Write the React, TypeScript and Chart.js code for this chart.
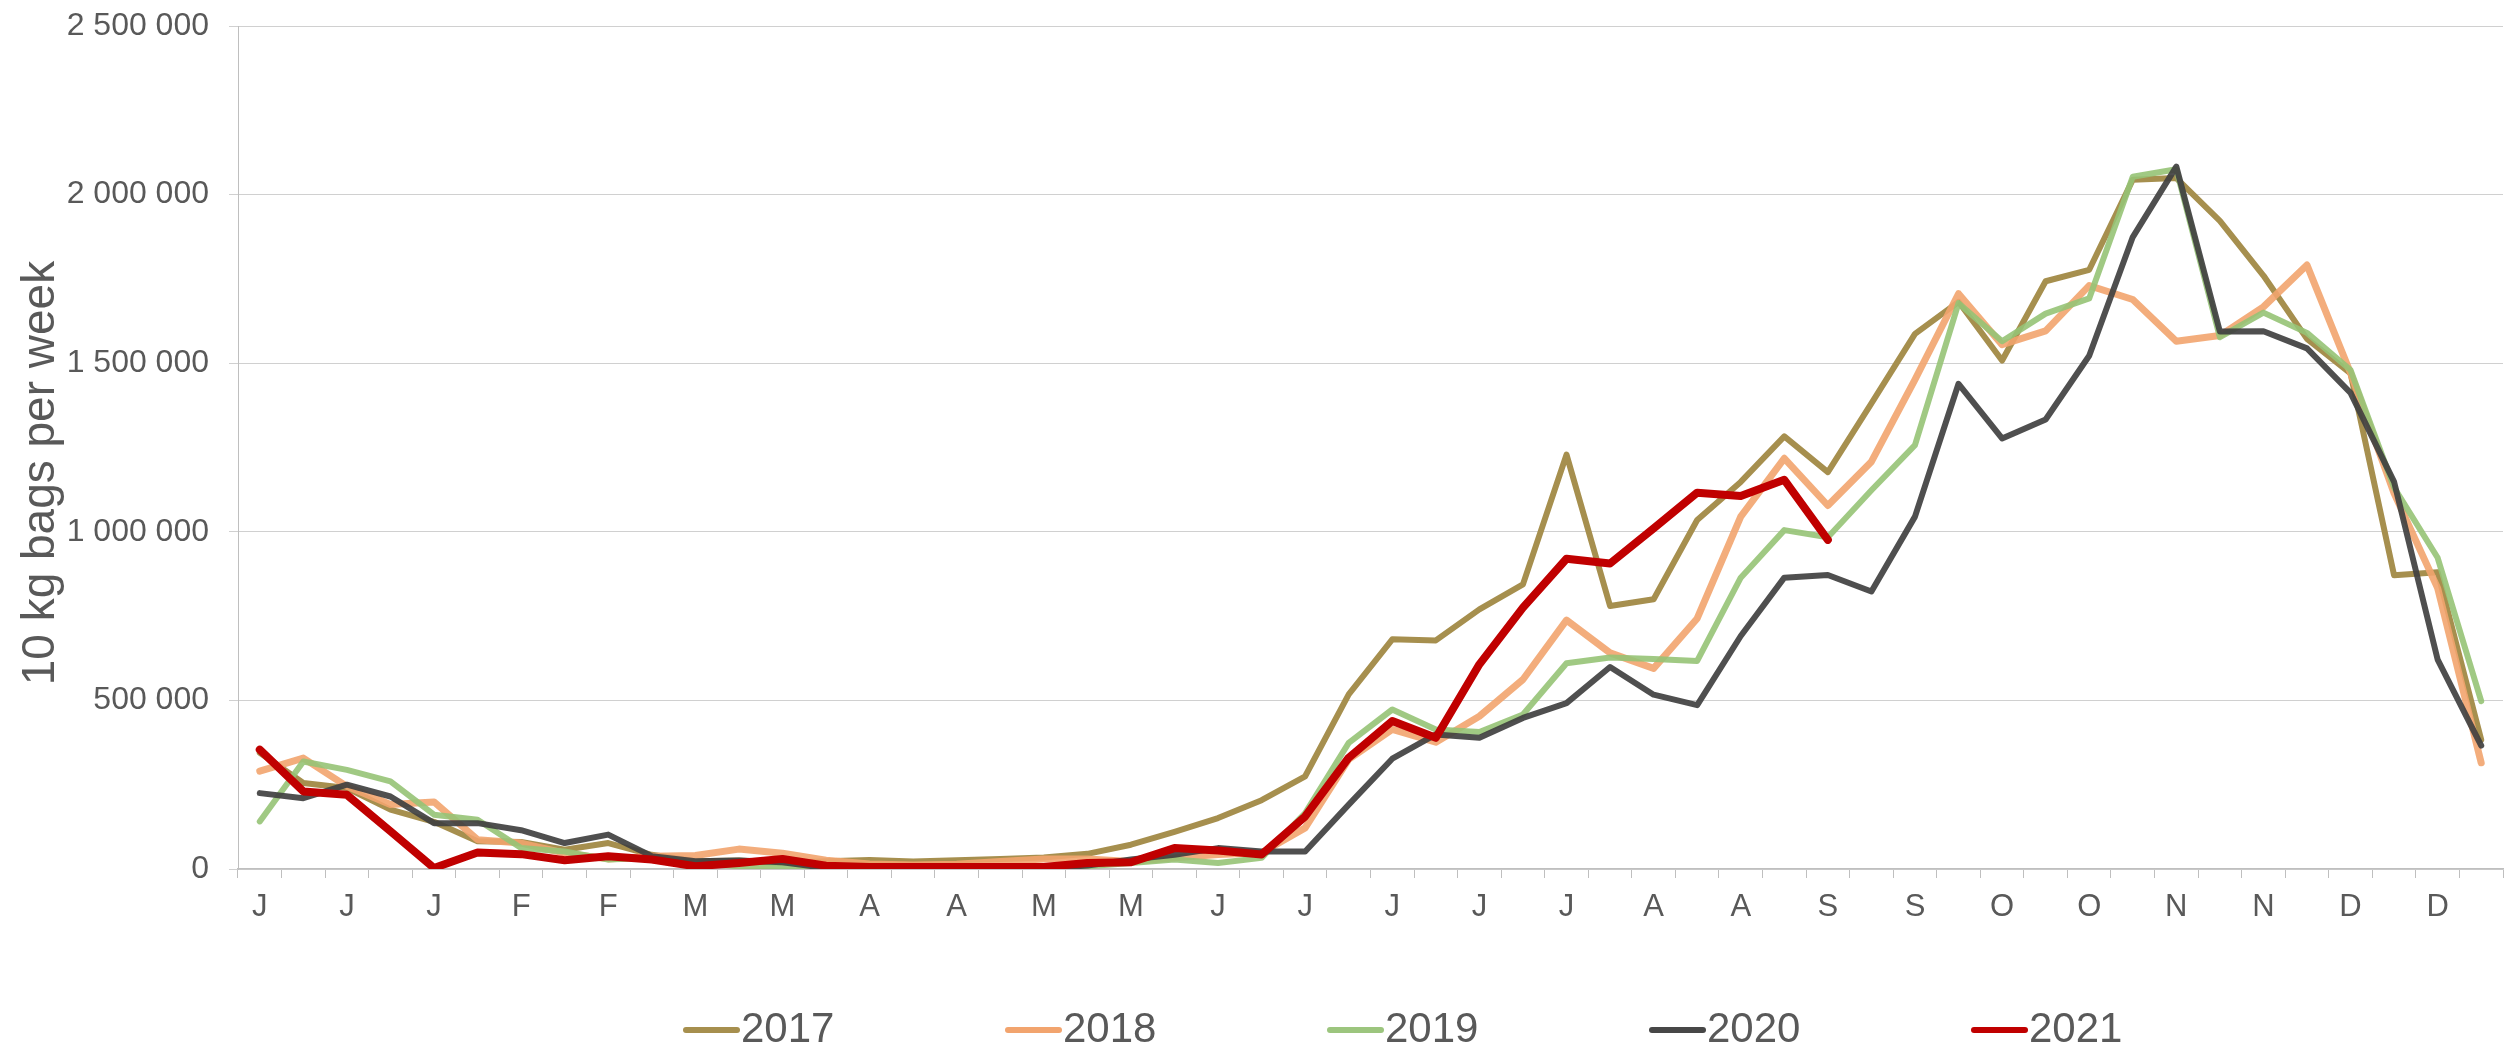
import React, { useEffect, useRef } from 'react';
import { Chart, registerables } from 'chart.js';

Chart.register(...registerables);

// Month initials shown under every other week
const monthTicks = ['J','J','J','F','F','M','M','A','A','M','M','J','J','J','J','J','A','A','S','S','O','O','N','N','D','D'];
const weekLabels: string[] = Array.from({ length: 52 }, (_, i) => (i % 2 === 0 ? monthTicks[i / 2] : ''));

const seriesNames = ['2017', '2018', '2019', '2020', '2021'];

const s2017 = [345000, 255000, 240000, 176000, 140000, 82000, 80000, 57000, 77000, 42000,
  23000, 25000, 18000, 23000, 27000, 22000, 26000, 30000, 34000, 45000,
  72000, 110000, 151000, 204000, 275000, 518000, 681000, 678000, 770000, 844000,
  1229000, 780000, 800000, 1035000, 1148000, 1283000, 1177000, 1381000, 1587000, 1682000,
  1508000, 1743000, 1777000, 2044000, 2049000, 1922000, 1760000, 1572000, 1470000, 871000,
  880000, 383000];

const s2018 = [290000, 329000, 245000, 191000, 199000, 87000, 77000, 47000, 30000, 38000,
  40000, 59000, 47000, 26000, 15000, 12000, 14000, 22000, 30000, 30000,
  22000, 33000, 43000, 48000, 122000, 325000, 414000, 376000, 453000, 562000,
  738000, 641000, 595000, 743000, 1045000, 1218000, 1078000, 1208000, 1451000, 1706000,
  1555000, 1596000, 1730000, 1689000, 1565000, 1582000, 1667000, 1791000, 1471000, 1114000,
  833000, 315000];

const s2019 = [141000, 319000, 294000, 260000, 161000, 146000, 62000, 52000, 28000, 33000,
  18000, 8000, 5000, 5000, 5000, 5000, 5000, 5000, 5000, 8000,
  18000, 28000, 18000, 33000, 166000, 374000, 473000, 414000, 406000, 458000,
  610000, 627000, 623000, 617000, 864000, 1005000, 984000, 1123000, 1257000, 1678000,
  1565000, 1647000, 1692000, 2053000, 2075000, 1577000, 1650000, 1590000, 1480000, 1131000,
  923000, 498000];

const s2020 = [225000, 210000, 250000, 215000, 136000, 136000, 115000, 77000, 102000, 38000,
  23000, 25000, 20000, 3000, 8000, 8000, 8000, 8000, 3000, 10000,
  28000, 42000, 62000, 52000, 52000, 191000, 327000, 399000, 389000, 448000,
  492000, 599000, 517000, 486000, 691000, 864000, 872000, 823000, 1045000, 1439000,
  1277000, 1333000, 1522000, 1874000, 2083000, 1594000, 1595000, 1544000, 1412000, 1148000,
  621000, 366000];

const s2021 = [354000, 230000, 220000, 112000, 3000, 49000, 44000, 26000, 38000, 28000,
  8000, 18000, 30000, 10000, 6000, 6000, 6000, 6000, 6000, 18000,
  20000, 62000, 55000, 43000, 156000, 330000, 439000, 389000, 607000, 775000,
  920000, 906000, 1010000, 1116000, 1106000, 1154000, 976000,
  null, null, null, null, null, null, null, null, null, null, null, null, null, null, null];

const yTickStep = 500000;
const yMax = 2500000;

const FONT = '"Liberation Sans", Arial, Helvetica, sans-serif';
const TEXT = '#595959';

const lineLegend = {
  id: 'lineLegend',
  afterDraw(chart: any) {
    const ctx = chart.ctx as CanvasRenderingContext2D;
    ctx.save();
    ctx.font = `42px ${FONT}`;
    ctx.textBaseline = 'middle';
    ctx.textAlign = 'left';
    const y = 1030;
    let x = 683;
    chart.data.datasets.forEach((ds: any) => {
      ctx.strokeStyle = ds.legendColor || ds.borderColor;
      ctx.lineWidth = 6;
      ctx.lineCap = 'round';
      ctx.beginPath();
      ctx.moveTo(x + 3, y);
      ctx.lineTo(x + 54, y);
      ctx.stroke();
      ctx.fillStyle = TEXT;
      ctx.fillText(ds.label, x + 58, y);
      x += 322;
    });
    ctx.restore();
  },
};

export default function App() {
  const canvasRef = useRef<HTMLCanvasElement | null>(null);

  useEffect(() => {
    if (!canvasRef.current) return;
    const mk = (label: string, data: (number | null)[], color: string, legendColor: string, width: number, order: number) => ({
      label,
      data,
      borderColor: color,
      legendColor,
      backgroundColor: color,
      borderWidth: width,
      pointRadius: 0,
      pointHoverRadius: 0,
      tension: 0,
      fill: false,
      borderJoinStyle: 'round' as const,
      borderCapStyle: 'round' as const,
      spanGaps: false,
      order,
    });

    const chart = new Chart(canvasRef.current, {
      type: 'line',
      data: {
        labels: weekLabels,
        datasets: [
          mk(seriesNames[0], s2017, 'rgba(166,143,78,1)', '#A68F4E', 6, 4),
          mk(seriesNames[1], s2018, 'rgba(242,164,110,0.9)', '#F2A46E', 7, 3),
          mk(seriesNames[2], s2019, 'rgba(150,195,118,0.9)', '#9CC57E', 6, 2),
          mk(seriesNames[3], s2020, 'rgba(64,64,64,0.92)', '#474747', 6, 1),
          mk(seriesNames[4], s2021, '#C00000', '#C00000', 8, 0),
        ],
      },
      options: {
        responsive: true,
        maintainAspectRatio: false,
        animation: false,
        devicePixelRatio: 1,
        layout: { padding: { top: 26, right: 3, left: 0, bottom: 0 } },
        plugins: {
          legend: { display: false },
          tooltip: { enabled: false },
        },
        scales: {
          x: {
            type: 'category',
            offset: true,
            afterFit: (scale: any) => { scale.height = 181; },
            grid: {
              display: true,
              offset: true,
              drawOnChartArea: false,
              drawTicks: true,
              tickLength: 9,
              tickColor: '#bfbfbf',
              tickWidth: 1,
            },
            border: { display: true, color: '#bfbfbf', width: 1.5 },
            ticks: {
              autoSkip: false,
              maxRotation: 0,
              minRotation: 0,
              padding: 11,
              color: TEXT,
              font: { family: FONT, size: 31 },
              callback: (_v: any, i: number) => weekLabels[i],
            },
          },
          y: {
            min: 0,
            max: yMax,
            afterFit: (scale: any) => {
              scale.width = 238;
              scale.paddingTop = 0;
              scale.paddingBottom = 0;
            },
            grid: {
              color: '#d0d0d0',
              lineWidth: 1,
              drawTicks: true,
              tickLength: 9,
              tickColor: '#d0d0d0',
            },
            border: { display: true, color: '#bfbfbf', width: 1 },
            ticks: {
              stepSize: yTickStep,
              padding: 20,
              color: TEXT,
              font: { family: FONT, size: 32 },
              callback: (v: any) => String(v).replace(/\B(?=(\d{3})+(?!\d))/g, ' '),
            },
            title: {
              display: true,
              text: '10 kg bags per week    ',
              color: TEXT,
              font: { family: FONT, size: 46 },
              padding: { top: 14, bottom: 0 },
            },
          },
        },
      },
      plugins: [lineLegend],
    });
    return () => chart.destroy();
  }, []);

  return (
    <div style={{ position: 'fixed', left: 0, top: 0, width: 2506, height: 1050, background: '#fff' }}>
      <canvas ref={canvasRef} />
    </div>
  );
}
